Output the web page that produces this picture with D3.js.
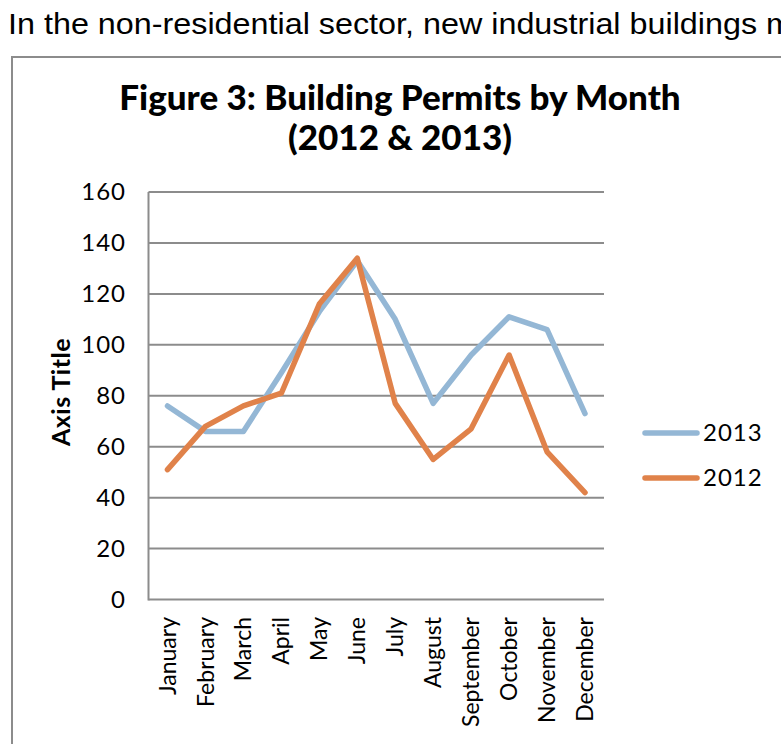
<!DOCTYPE html>
<html>
<head>
<meta charset="utf-8">
<script src="https://cdn.jsdelivr.net/npm/d3@7"></script>
<style>
  body { margin: 0; background: #fff; overflow: hidden; }
  svg text { fill: #000; }
</style>
</head>
<body>
<svg id="chart" width="781" height="744"></svg>
<script>
// months on the x axis
var months = ["January","February","March","April","May","June","July","August","September","October","November","December"];
// permits per month
var permits2013 = [76, 66, 66, 89, 113, 133, 110, 77, 96, 111, 106, 73];
var permits2012 = [51, 68, 76, 81, 116, 134, 77, 55, 67, 96, 58, 42];
var yTicks = [0, 20, 40, 60, 80, 100, 120, 140, 160];
var seriesNames = ["2013", "2012"];
var seriesColors = ["#94B7D5", "#E0824A"];

var svg = d3.select("#chart");
var gothic = "Lato, 'Open Sans', sans-serif";

// intro sentence above the box (cut off in the page)
svg.append("text")
  .attr("x", 8).attr("y", 34)
  .attr("textLength", 785)
  .attr("lengthAdjust", "spacingAndGlyphs")
  .style("font-family", "'Liberation Sans', Arial, sans-serif")
  .style("font-size", "29px")
  .text("In the non-residential sector, new industrial buildings m");

// chart frame
svg.append("rect")
  .attr("x", 12).attr("y", 57)
  .attr("width", 800).attr("height", 720)
  .attr("fill", "none")
  .attr("stroke", "#8c8c8c")
  .attr("stroke-width", 2);

// title
var title = svg.append("text")
  .attr("text-anchor", "middle")
  .style("font-family", gothic)
  .style("font-weight", "900")
  .style("font-size", "35px");
title.append("tspan").attr("x", 400).attr("y", 110).text("Figure 3: Building Permits by Month");
title.append("tspan").attr("x", 400).attr("y", 150).text("(2012 & 2013)");

var plotLeft = 148.5, plotRight = 604, plotTop = 192, plotBottom = 599.5;

var x = d3.scaleBand().domain(months).range([plotLeft, plotRight]);
var y = d3.scaleLinear().domain([0, 160]).range([plotBottom, plotTop]);

// gridlines
svg.append("g")
  .selectAll("line")
  .data(yTicks)
  .enter()
  .append("line")
  .attr("x1", plotLeft).attr("x2", plotRight)
  .attr("y1", function(d){ return y(d); })
  .attr("y2", function(d){ return y(d); })
  .attr("stroke", "#8c8c8c")
  .attr("stroke-width", 2);

// y axis line
svg.append("line")
  .attr("x1", plotLeft).attr("x2", plotLeft)
  .attr("y1", plotTop).attr("y2", plotBottom + 1)
  .attr("stroke", "#8c8c8c")
  .attr("stroke-width", 2);

// y tick labels
svg.append("g")
  .selectAll("text")
  .data(yTicks)
  .enter()
  .append("text")
  .attr("x", 126)
  .attr("y", function(d){ return y(d); })
  .attr("dy", "0.35em")
  .attr("text-anchor", "end")
  .style("font-family", gothic)
  .style("font-size", "24px")
  .style("letter-spacing", "1px")
  .text(function(d){ return d; });

// x labels, rotated
svg.append("g")
  .selectAll("text")
  .data(months)
  .enter()
  .append("text")
  .attr("transform", function(d){
    return "translate(" + (x(d) + x.bandwidth() / 2) + ",617) rotate(-90)";
  })
  .attr("dy", "0.35em")
  .attr("text-anchor", "end")
  .style("font-family", gothic)
  .style("font-size", "23px")
  .text(function(d){ return d; });

// axis title
svg.append("text")
  .attr("transform", "translate(61,392) rotate(-90)")
  .attr("dy", "0.35em")
  .attr("text-anchor", "middle")
  .style("font-family", gothic)
  .style("font-weight", "bold")
  .style("font-size", "25px")
  .style("letter-spacing", "0.5px")
  .text("Axis Title");

// lines
var line = d3.line()
  .x(function(d, i){ return x(months[i]) + x.bandwidth() / 2; })
  .y(function(d){ return y(d); });

var allSeries = [permits2013, permits2012];
allSeries.forEach(function(vals, i){
  svg.append("path")
    .datum(vals)
    .attr("d", line)
    .attr("fill", "none")
    .attr("stroke", seriesColors[i])
    .attr("stroke-width", 5.5)
    .attr("stroke-linejoin", "round")
    .attr("stroke-linecap", "round");
});

// legend
var legend = svg.append("g");
seriesNames.forEach(function(name, i){
  var ly = 433 + i * 45;
  legend.append("line")
    .attr("x1", 645).attr("x2", 697)
    .attr("y1", ly).attr("y2", ly)
    .attr("stroke", seriesColors[i])
    .attr("stroke-width", 5.5)
    .attr("stroke-linecap", "round");
  legend.append("text")
    .attr("x", 703).attr("y", ly)
    .attr("dy", "0.35em")
    .style("font-family", gothic)
    .style("font-size", "24px")
    .style("letter-spacing", "1px")
    .text(name);
});
</script>
</body>
</html>
